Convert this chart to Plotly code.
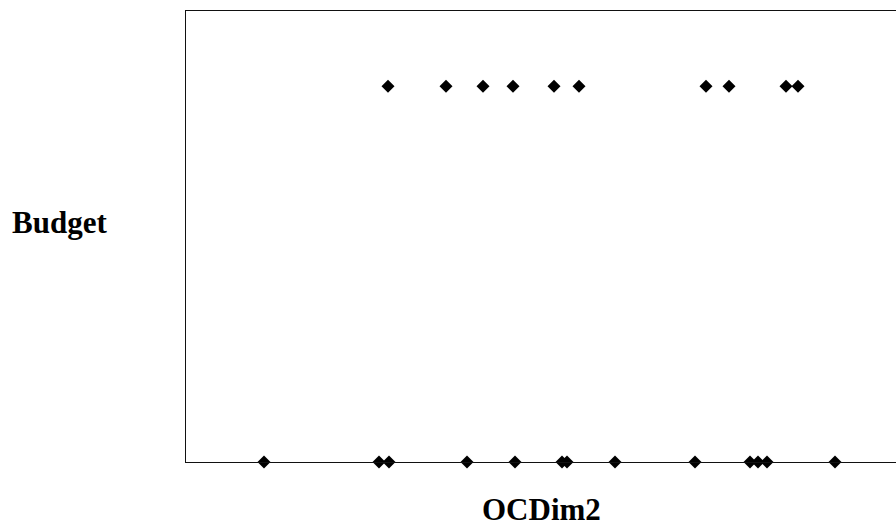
import plotly.graph_objects as go

# OCDim2 values (x) for cases with Budget = 1 and Budget = 0
ocdim2_budget1 = [2.02, 2.60, 2.97, 3.27, 3.68, 3.93, 5.20, 5.43, 6.00, 6.12]
ocdim2_budget0 = [0.78, 1.93, 2.03, 2.81, 3.29, 3.76, 3.81, 4.29, 5.09, 5.64, 5.72, 5.81, 6.49]
budget_levels = [1, 0]

x_title = "OCDim2"
y_title = "Budget"

xs = ocdim2_budget1 + ocdim2_budget0
ys = [budget_levels[0]] * len(ocdim2_budget1) + [budget_levels[1]] * len(ocdim2_budget0)

fig = go.Figure()
fig.add_trace(go.Scatter(
    x=xs, y=ys, mode="markers",
    marker=dict(symbol="diamond", size=10, color="black", line=dict(width=0)),
    cliponaxis=False, showlegend=False, hoverinfo="skip",
))

font = dict(family="Liberation Serif, Times New Roman, serif", size=31, color="black")

fig.update_layout(
    width=896, height=530,
    margin=dict(l=186, r=0, t=11, b=68),
    paper_bgcolor="white", plot_bgcolor="white",
    xaxis=dict(range=[0, 7.1], showline=True, mirror=True, linecolor="#111", linewidth=1.3,
               showgrid=False, zeroline=False, showticklabels=False, ticks=""),
    yaxis=dict(range=[0, 1.2], showline=True, mirror=False, linecolor="#111", linewidth=1.3,
               showgrid=False, zeroline=False, showticklabels=False, ticks=""),
    annotations=[
        dict(text="<b>%s</b>" % x_title, xref="paper", yref="paper", x=0.5, y=-0.106,
             xanchor="center", yanchor="middle", showarrow=False, font=font),
        dict(text="<b>%s</b>" % y_title, xref="paper", yref="paper", x=-0.108, y=0.53,
             xanchor="right", yanchor="middle", showarrow=False, font=font),
    ],
)

fig.write_html("out.html")
